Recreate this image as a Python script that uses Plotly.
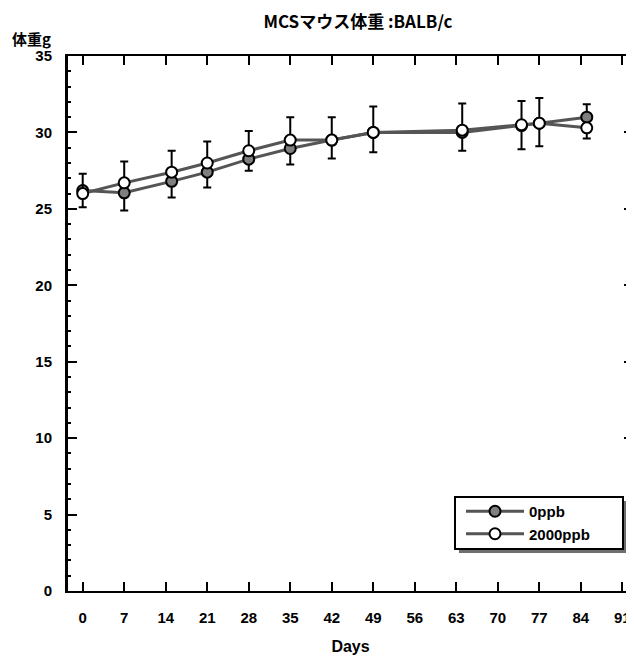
import plotly.graph_objects as go

# ---- data ----
days = [0, 7, 15, 21, 28, 35, 42, 49, 64, 74, 77, 85]
weight_0ppb = [26.2, 26.05, 26.8, 27.4, 28.25, 28.95, 29.5, 30.0, 30.0, 30.45, 30.6, 31.0]
weight_2000ppb = [26.0, 26.7, 27.4, 28.0, 28.8, 29.5, 29.5, 30.0, 30.15, 30.5, 30.6, 30.3]
err_plus_0ppb = [0, 0, 0, 0, 0, 0, 0, 0, 0, 0, 0, 0.85]
err_minus_0ppb = [1.1, 1.15, 1.05, 1.0, 0.75, 1.05, 1.2, 1.3, 1.2, 1.55, 1.5, 0]
err_plus_2000ppb = [1.3, 1.4, 1.4, 1.4, 1.3, 1.5, 1.5, 1.7, 1.75, 1.55, 1.65, 0]
err_minus_2000ppb = [0, 0, 0, 0, 0, 0, 0, 0, 0, 0, 0, 0.7]
series_names = ["0ppb", "2000ppb"]
x_ticks = list(range(0, 92, 7))
y_ticks = list(range(0, 36, 5))

FONT = "Liberation Sans, Arial, sans-serif"
JFONT = "Noto Sans CJK JP, sans-serif"

# ---- layout geometry (figure pixels) ----
W, H = 626, 651
L, R, T, B = 60, 1, 48, 68
PW, PH = W - L - R, H - T - B


def px(xp):
    return (xp - L) / PW


def py(yp):
    return (H - B - yp) / PH


fig = go.Figure()

fig.add_trace(go.Scatter(
    x=days, y=weight_0ppb, name=series_names[0], mode="lines+markers",
    line=dict(color="#555555", width=3),
    marker=dict(symbol="circle", size=11, color="#7f7f7f",
                line=dict(color="black", width=2)),
    error_y=dict(type="data", symmetric=False, array=err_plus_0ppb,
                 arrayminus=err_minus_0ppb, color="black", thickness=2, width=4),
))
fig.add_trace(go.Scatter(
    x=days, y=weight_2000ppb, name=series_names[1], mode="lines+markers",
    line=dict(color="#555555", width=3),
    marker=dict(symbol="circle", size=11, color="white",
                line=dict(color="black", width=2)),
    error_y=dict(type="data", symmetric=False, array=err_plus_2000ppb,
                 arrayminus=err_minus_2000ppb, color="black", thickness=2, width=4),
))

# legend drop shadow and frame
fig.add_shape(type="rect", xref="paper", yref="paper",
              x0=px(451), x1=px(620), y0=py(545), y1=py(493),
              fillcolor="#6f6f6f", line=dict(width=0), layer="above")
fig.add_shape(type="rect", xref="paper", yref="paper",
              x0=px(447), x1=px(615), y0=py(541), y1=py(489),
              fillcolor="white", line=dict(color="black", width=2), layer="above")

fig.update_layout(
    width=W, height=H,
    margin=dict(l=L, r=R, t=T, b=B, autoexpand=False),
    paper_bgcolor="white", plot_bgcolor="white",
    showlegend=True,
    title=dict(text="MCSマウス体重 :BALB/c", x=350 / W, xanchor="center",
               y=1 - 14 / H, yanchor="middle",
               font=dict(family=JFONT, size=17, color="black", weight="bold")),
    legend=dict(x=px(453), y=py(487), xanchor="left", yanchor="top",
                bgcolor="rgba(0,0,0,0)", borderwidth=0,
                font=dict(family=FONT, size=15, color="black", weight="bold"),
                itemwidth=58, tracegroupgap=0),
    xaxis=dict(range=[-2.48, 92.8], tickmode="array", tickvals=x_ticks,
               ticks="inside", ticklen=9, tickwidth=2, tickcolor="black",
               showline=True, linecolor="black", linewidth=2, mirror="ticks",
               showgrid=False, zeroline=False, ticklabelstandoff=12,
               automargin=False,
               tickfont=dict(family=FONT, size=15, color="black", weight="bold"),
               title=dict(text="Days", font=dict(family=FONT, size=16, color="black",
                                                  weight="bold"),
                          standoff=16)),
    yaxis=dict(range=[0, 35], tickmode="array", tickvals=y_ticks,
               ticks="inside", ticklen=9, tickwidth=2, tickcolor="black",
               minor=dict(dtick=1, ticks="inside", ticklen=3, tickwidth=1.5, tickcolor="black"),
               showline=True, linecolor="black", linewidth=3, mirror="ticks",
               showgrid=False, zeroline=False, ticklabelstandoff=10,
               automargin=False,
               tickfont=dict(family=FONT, size=15, color="black", weight="bold")),
)

fig.add_annotation(text="体重g", xref="paper", yref="paper",
                   x=px(2), y=py(30), xanchor="left", yanchor="middle",
                   showarrow=False,
                   font=dict(family=JFONT, size=15, color="black", weight="bold"))

fig.write_html("out.html")
